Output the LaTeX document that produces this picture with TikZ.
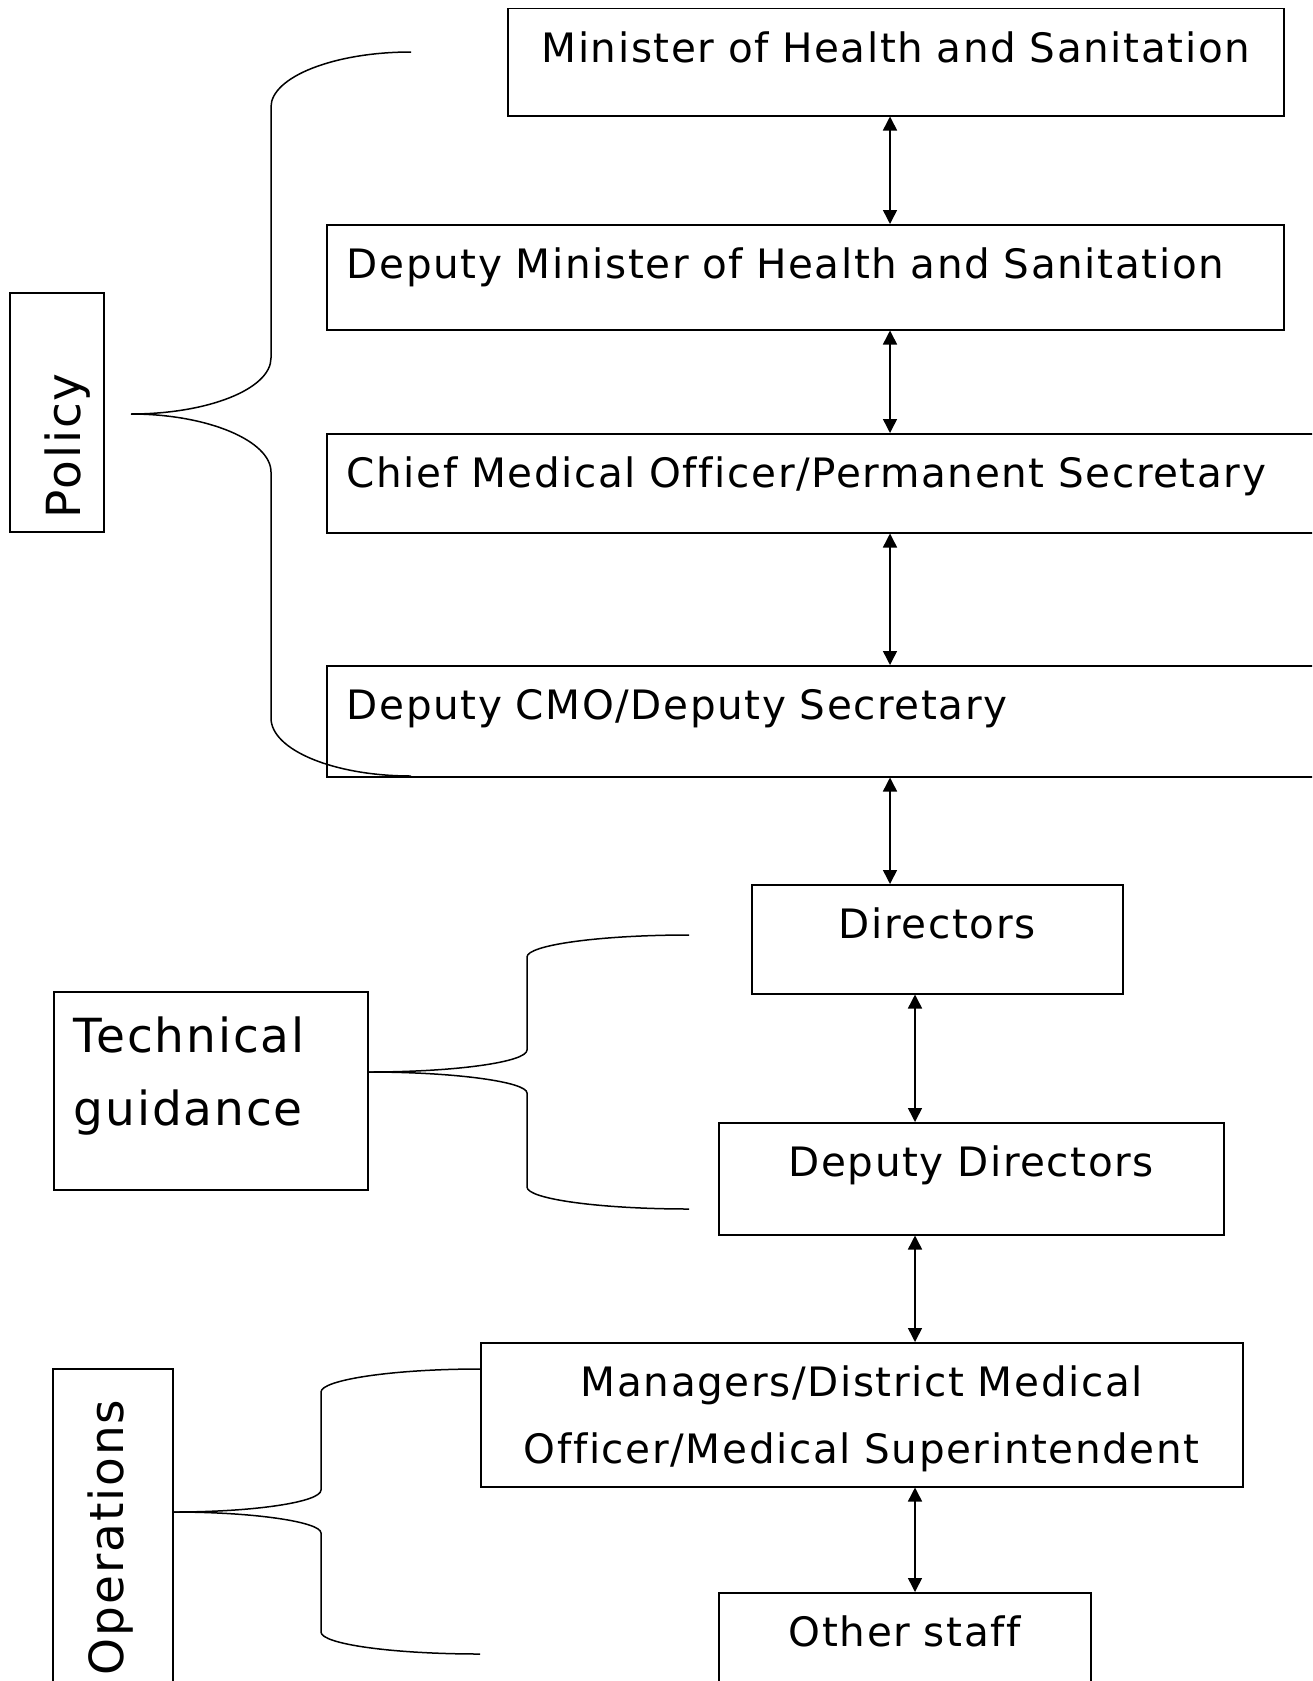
\documentclass[tikz,border=0pt]{standalone}
\usepackage{fontspec}
\setmainfont{DejaVu Sans}[LetterSpace=4,Ligatures=NoCommon]
\usetikzlibrary{arrows.meta}

\begin{document}
\begin{tikzpicture}
  [x=1pt,y=-1pt,line width=1.5pt,
   every node/.style={font=\fontsize{40.5}{67}\selectfont},
   orgbox/.style={draw,anchor=north west,inner xsep=20pt,inner ysep=0pt,text height=54pt},
   sidebox/.style={draw,inner xsep=14pt,inner ysep=0pt,text height=70pt,font=\fontsize{47}{73}\selectfont},
   twoway/.style={{Triangle[length=14pt,width=14pt]}-{Triangle[length=14pt,width=14pt]}}]

  \useasboundingbox (0,0) rectangle (1312,1681);
  \clip (0,0) rectangle (1312,1681);

  \node[orgbox,text width=736pt,align=center,text depth=53.5pt] (minister) at (507,7.5) {Minister of Health and Sanitation};
  \node[orgbox,text width=917pt,align=left,text depth=51pt] (depmin) at (326,224) {Deputy Minister of Health and Sanitation};
  \node[orgbox,text width=974pt,align=left,text depth=45pt] (cmo) at (326,433) {Chief Medical Officer/Permanent Secretary};
  \node[orgbox,text width=974pt,align=left,text depth=57pt] (dcmo) at (326,665) {Deputy CMO/Deputy Secretary};
  \node[orgbox,text width=331pt,align=center,text depth=55pt] (directors) at (751,884) {Directors};
  \node[orgbox,text width=465pt,align=center,text depth=58pt] (depdir) at (718,1122) {Deputy Directors};
  \node[orgbox,text width=722pt,align=center,text depth=90pt] (managers) at (480,1342) {Managers/District Medical\\Officer/Medical Superintendent};
  \node[orgbox,text width=332pt,align=center,text depth=60pt] (other) at (718,1592) {Other staff};

  \node[sidebox,rotate=90,text width=211pt,align=left,text depth=24pt] (policy) at (57,412.5) {Policy};
  \node[sidebox,anchor=north west,inner xsep=20pt,text width=274pt,align=left,text height=61pt,text depth=137pt] (technical) at (53,991) {Technical\\guidance};
  \node[sidebox,rotate=90,text width=292pt,align=left,text depth=50pt] (operations) at (113,1529) {Operations};

  \coordinate (upper) at (890,0);
  \coordinate (lower) at (915,0);

\foreach \from/\to/\col in
{minister/depmin/upper, depmin/cmo/upper, cmo/dcmo/upper, dcmo/directors/upper,
 directors/depdir/lower, depdir/managers/lower, managers/other/lower}
    \draw[twoway] (\from.south -| \col) -- (\to.north -| \col);

  \draw (131,414) .. controls (208,414) and (271,389) .. (271,358) -- (271,107)
        .. controls (271,77) and (334,52) .. (411,52);
  \draw (131,414) .. controls (208,414) and (271,441) .. (271,472) -- (271,718)
        .. controls (271,750) and (334,776) .. (411,776);

  \draw (technical.east |- 0,1072) .. controls (456,1072) and (527,1062) .. (527,1050) -- (527,957)
        .. controls (527,945) and (600,935) .. (689,935);
  \draw (technical.east |- 0,1072) .. controls (456,1072) and (527,1082) .. (527,1093) -- (527,1187)
        .. controls (527,1199) and (600,1209) .. (689,1209);

  \draw (operations.south |- 0,1512) .. controls (255,1512) and (321,1502) .. (321,1490) -- (321,1392)
        .. controls (321,1380) and (392,1369) .. (managers.west |- 0,1369);
  \draw (operations.south |- 0,1512) .. controls (255,1512) and (321,1522) .. (321,1533) -- (321,1632)
        .. controls (321,1644) and (392,1654) .. (480,1654);

\end{tikzpicture}
\end{document}
